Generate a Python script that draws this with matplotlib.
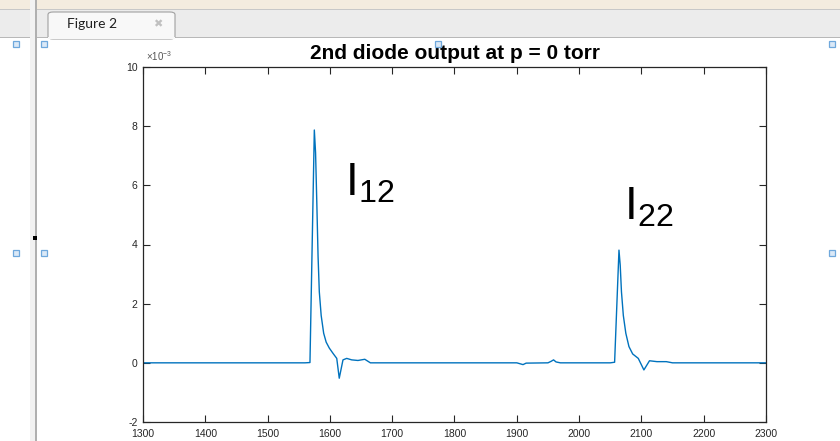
import matplotlib
matplotlib.use("Agg")
import matplotlib.pyplot as plt
from matplotlib.patches import Rectangle, FancyBboxPatch

plt.rcParams['font.family'] = ['Liberation Sans', 'DejaVu Sans']
plt.rcParams['mathtext.fontset'] = 'custom'
plt.rcParams['mathtext.rm'] = 'Liberation Sans'
plt.rcParams['axes.unicode_minus'] = False

# Diode output trace (time sample, signal in units of 1e-3)
t = [1300, 1400, 1500, 1560, 1568, 1575, 1577, 1579, 1581, 1583, 1586, 1590,
     1594, 1599, 1605, 1611, 1615, 1621, 1627, 1635, 1645, 1656, 1665, 1700,
     1800, 1900, 1905, 1910, 1915, 1950, 1955, 1959, 1963, 1970, 2000, 2050,
     2057, 2064, 2066, 2068, 2071, 2075, 2080, 2086, 2095, 2104, 2113, 2125,
     2140, 2150, 2200, 2300]
v = [0.0, 0.0, 0.0, 0.0, 0.01, 7.87, 7.10, 5.40, 3.60, 2.40, 1.60, 1.00,
     0.70, 0.50, 0.32, 0.15, -0.52, 0.10, 0.15, 0.10, 0.08, 0.12, 0.0, 0.0,
     0.0, 0.0, -0.03, -0.06, -0.01, 0.0, 0.05, 0.10, 0.03, 0.0, 0.0, 0.0,
     0.02, 3.81, 3.30, 2.40, 1.60, 1.00, 0.55, 0.30, 0.15, -0.24, 0.07, 0.04,
     0.04, 0.0, 0.0, 0.0]

x_ticks = [1300, 1400, 1500, 1600, 1700, 1800, 1900, 2000, 2100, 2200, 2300]
y_ticks = [-2, 0, 2, 4, 6, 8, 10]
title = "2nd diode output at p = 0 torr"

fig = plt.figure(figsize=(8.4, 4.41), dpi=100)
fig.patch.set_facecolor('white')

W, H = 840.0, 441.0

def px(x0, y0, w, h):
    return (x0 / W, 1 - (y0 + h) / H, w / W, h / H)

# window chrome: title strip, tab bar, dock border
for (x0, y0, w, h, c) in [(0, 0, 840, 10, '#f4ecdf'),
                          (0, 10, 840, 28, '#ececec'),
                          (0, 37, 840, 1, '#b8b8b8'),
                          (0, 9, 840, 1, '#c8c8c8'),
                          (30, 0, 5, 441, '#f2f2f2'),
                          (35, 0, 1.5, 441, '#b0b0b0')]:
    x, y, ww, hh = px(x0, y0, w, h)
    fig.patches.append(Rectangle((x, y), ww, hh, transform=fig.transFigure,
                                 facecolor=c, edgecolor='none', zorder=0))
x, y, ww, hh = px(48, 12, 127, 27)
fig.patches.append(FancyBboxPatch((x, y), ww, hh, boxstyle="round,pad=0,rounding_size=0.006",
                                  transform=fig.transFigure, facecolor='#f8f8f8',
                                  edgecolor='#a0a0a0', linewidth=0.8, zorder=1))
x, y, ww, hh = px(48, 37, 127, 2)
fig.patches.append(Rectangle((x, y), ww, hh, transform=fig.transFigure,
                             facecolor='#f8f8f8', edgecolor='none', zorder=2))
fig.text(67 / W, 1 - 24 / H, "Figure 2", fontsize=10, color='#202020',
         va='center', ha='left', family=['Lato', 'DejaVu Sans'])
fig.text(158 / W, 1 - 24 / H, "\u2716", fontsize=8, color='#c0c0c0',
         va='center', ha='center', family=['DejaVu Sans'])
x, y, ww, hh = px(33, 236, 4, 4)
fig.patches.append(Rectangle((x, y), ww, hh, transform=fig.transFigure,
                             facecolor='black', edgecolor='none', zorder=3))
# selection handles
for (cx, cy) in [(16, 44), (44, 44), (438, 44), (832, 44),
                 (16, 253), (44, 253), (832, 253)]:
    x, y, ww, hh = px(cx - 3, cy - 3, 6, 6)
    fig.patches.append(Rectangle((x, y), ww, hh, transform=fig.transFigure,
                                 facecolor='#dbe9f7', edgecolor='#6fa8dc',
                                 linewidth=0.9, zorder=3))

ax = fig.add_axes([143 / W, 1 - 422 / H, 623 / W, 355 / H])
ax.plot(t, v, color='#0072BD', linewidth=1.0)
ax.set_xlim(1300, 2300)
ax.set_ylim(-2, 10)
ax.set_xticks(x_ticks)
ax.set_yticks(y_ticks)
ax.tick_params(direction='in', length=5, width=0.8, top=True, right=True,
               labelsize=7.5, colors='#262626')
ax.tick_params(axis='x', pad=5)
ax.tick_params(axis='y', pad=4)
for s in ax.spines.values():
    s.set_linewidth(0.9)
    s.set_color('#262626')
ax.set_title(title, fontsize=15, fontweight='bold', pad=6)
ax.text(0.005, 1.012, r"$\times10^{-3}$", transform=ax.transAxes, fontsize=7,
        color='#555555', ha='left', va='bottom')

ax.text(1624, 5.67, r"$\mathregular{I_{12}}$", fontsize=33, ha='left', va='baseline')
ax.text(2072, 4.85, r"$\mathregular{I_{22}}$", fontsize=33, ha='left', va='baseline')

fig.savefig("out.png", dpi=100)
